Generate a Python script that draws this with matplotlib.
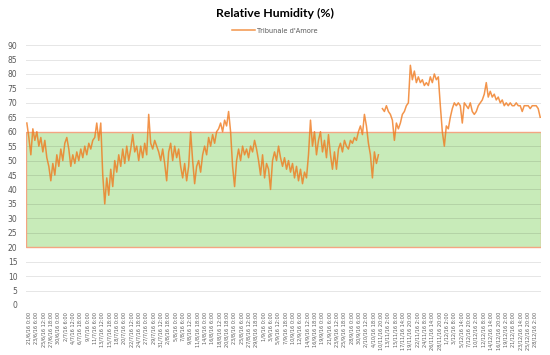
import numpy as np
import matplotlib
matplotlib.use("Agg")
import matplotlib.pyplot as plt
from matplotlib.patches import Rectangle

title = "Relative Humidity (%)"
series_name = "Tribunale d'Amore"

# Relative humidity readings (%), in time order; NaN marks a gap in the record
rh_part1 = [
    63, 58, 52, 61, 57, 60, 55, 58, 53, 57, 51, 48, 43, 49, 45, 52, 48, 54, 50, 56,
    58, 54, 48, 52, 49, 53, 50, 54, 51, 55, 52, 56, 54, 57, 58, 63, 57, 63, 45, 35,
    44, 38, 47, 41, 50, 46, 52, 48, 54, 49, 55, 50, 54, 59, 53, 55, 50, 55, 51, 56,
    52, 66, 56, 54, 57, 55, 53, 50, 54, 49, 43, 53, 56, 50, 55, 51, 54, 48, 44, 49,
    43, 48, 60, 50, 42, 48, 50, 46, 52, 55, 52, 58, 55, 59, 56, 60, 61, 63, 60, 64,
    62, 67, 60, 48, 41, 50, 54, 50, 55, 52, 54, 51, 55, 53, 57, 54, 50, 45, 52, 44,
    49, 47, 40, 50, 53, 50, 55, 51, 48, 51, 47, 50, 46, 49, 44, 48, 43, 47, 42, 46,
    44, 52, 64, 55, 60, 52, 57, 60, 53, 57, 51, 59, 52, 47, 53, 47, 54, 56, 53, 57,
    55, 54, 57, 56, 58, 57, 60, 62, 59, 66, 62, 56, 52, 44, 53, 49, 52,
]
rh_part2 = [
    68, 67, 69, 67, 66, 64, 57, 63, 61, 63, 66, 67, 69, 70, 83, 78, 81, 77, 79, 77,
    78, 76, 77, 76, 79, 77, 80, 78, 79, 69, 60, 55, 62, 61, 65, 68, 70, 69, 70, 69,
    63, 70, 69, 68, 70, 67, 66, 67, 69, 70, 71, 73, 77, 72, 74, 72, 73, 71, 72, 70,
    71, 69, 70, 69, 70, 69, 69, 70, 69, 69, 67, 69, 69, 69, 68, 69, 69, 69, 68, 65,
]
humidity = np.array(rh_part1 + [np.nan] + rh_part2, dtype=float)

comfort_low, comfort_high = 20, 60
y_ticks = list(range(0, 95, 5))

x_labels = [
    "21/6/16 0:00", "23/6/16 6:00", "25/6/16 12:00", "27/6/16 18:00", "30/6/16 0:00",
    "2/7/16 6:00", "4/7/16 12:00", "6/7/16 18:00", "9/7/16 0:00", "11/7/16 6:00",
    "13/7/16 12:00", "15/7/16 18:00", "18/7/16 0:00", "20/7/16 6:00", "22/7/16 12:00",
    "24/7/16 18:00", "27/7/16 0:00", "29/7/16 6:00", "31/7/16 12:00", "2/8/16 18:00",
    "5/8/16 0:00", "7/8/16 6:00", "9/8/16 12:00", "11/8/16 18:00", "14/8/16 0:00",
    "16/8/16 6:00", "18/8/16 12:00", "20/8/16 18:00", "23/8/16 0:00", "25/8/16 6:00",
    "27/8/16 12:00", "29/8/16 18:00", "1/9/16 0:00", "3/9/16 6:00", "5/9/16 12:00",
    "7/9/16 18:00", "10/9/16 0:00", "12/9/16 6:00", "14/9/16 12:00", "16/9/16 18:00",
    "19/9/16 0:00", "21/9/16 6:00", "23/9/16 12:00", "25/9/16 18:00", "28/9/16 0:00",
    "30/9/16 6:00", "2/10/16 12:00", "4/10/16 18:00", "10/11/16 20:00", "13/11/16 2:00",
    "15/11/16 8:00", "17/11/16 14:00", "19/11/16 20:00", "22/11/16 2:00", "24/11/16 8:00",
    "26/11/16 14:00", "28/11/16 20:00", "1/12/16 2:00", "3/12/16 8:00", "5/12/16 14:00",
    "7/12/16 20:00", "10/12/16 2:00", "12/12/16 8:00", "14/12/16 14:00", "16/12/16 20:00",
    "19/12/16 2:00", "21/12/16 8:00", "23/12/16 14:00", "25/12/16 20:00", "28/12/16 2:00",
]

fig = plt.figure(figsize=(5.5, 3.55), dpi=100)
ax = fig.add_axes([0.047, 0.141, 0.937, 0.732])

n = len(humidity)
x = np.arange(n)
ax.plot(x, humidity, color="#F07A1E", lw=1.1, alpha=0.8, zorder=3,
        label=series_name)

ax.set_xlim(-0.5, n - 0.5)
ax.set_ylim(0, 90)
ax.set_yticks(y_ticks)
ax.set_axisbelow(False)
ax.grid(axis="y", color="black", alpha=0.1, lw=0.7)

# comfort band
band = Rectangle((0, comfort_low), 1, comfort_high - comfort_low,
                 transform=ax.get_yaxis_transform(), facecolor="#C8EBB9",
                 edgecolor="none", zorder=1)
ax.add_patch(band)
edge = Rectangle((0.001, comfort_low), 0.998, comfort_high - comfort_low,
                 transform=ax.get_yaxis_transform(), facecolor="none",
                 edgecolor="#F4A582", lw=1.0, zorder=2.7)
ax.add_patch(edge)

tick_pos = np.linspace(1, n - 3.5, len(x_labels))
ax.set_xticks(tick_pos)
ax.set_xticklabels(x_labels, rotation=90, fontsize=3.6, color="#595959")
ax.tick_params(axis="x", length=0, pad=5)
ax.tick_params(axis="y", length=0, labelsize=5.5, labelcolor="#595959", pad=6)
for s in ax.spines.values():
    s.set_visible(False)

fig.text(0.5, 0.962, title, ha="center", va="center", fontsize=8.8,
         fontweight="bold", family="Lato", color="#000000")
leg = fig.legend(loc="center", bbox_to_anchor=(0.5, 0.914), frameon=False,
                 fontsize=4.8, handlelength=3.5, handletextpad=0.3)
for t in leg.get_texts():
    t.set_color("#595959")

fig.savefig("out.png", dpi=100)
